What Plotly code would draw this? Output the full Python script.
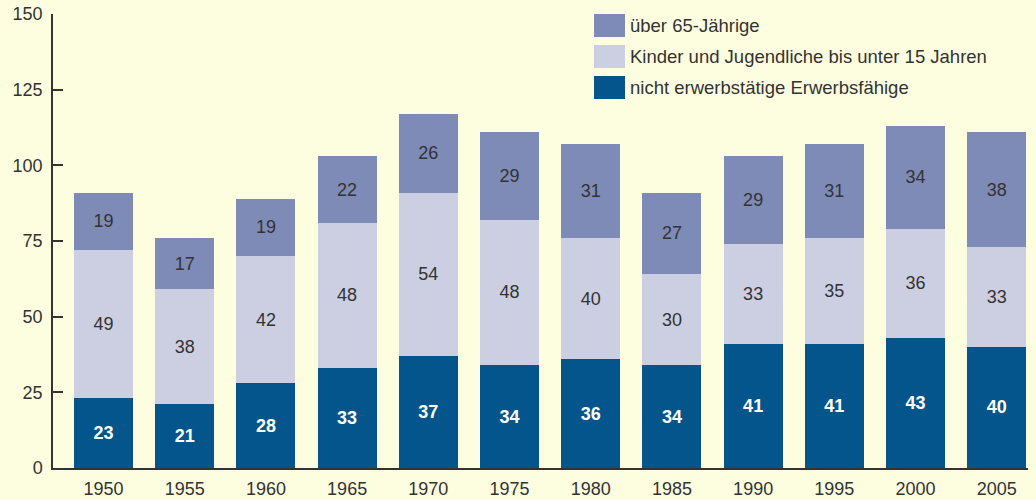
import plotly.graph_objects as go

years = ["1950", "1955", "1960", "1965", "1970", "1975", "1980", "1985", "1990", "1995", "2000", "2005"]
erwerbsfaehige = [23, 21, 28, 33, 37, 34, 36, 34, 41, 41, 43, 40]
kinder = [49, 38, 42, 48, 54, 48, 40, 30, 33, 35, 36, 33]
senioren = [19, 17, 19, 22, 26, 29, 31, 27, 29, 31, 34, 38]
series_names = ["nicht erwerbstätige Erwerbsfähige",
                "Kinder und Jugendliche bis unter 15 Jahren",
                "über 65-Jährige"]
y_ticks = [0, 25, 50, 75, 100, 125, 150]

BG = "#FDFDDF"
C_DARK = "#03558B"
C_LIGHT = "#CCCFE2"
C_MID = "#7D8BB6"
TXT = "#333333"
FONT = "Liberation Sans, Arial, sans-serif"

x = list(range(len(years)))
fig = go.Figure()
data = [(erwerbsfaehige, C_DARK, "white", "bold"),
        (kinder, C_LIGHT, TXT, "normal"),
        (senioren, C_MID, TXT, "normal")]
for name, (vals, col, tcol, tw) in zip(series_names, data):
    fig.add_trace(go.Bar(
        x=x, y=vals, name=name, marker=dict(color=col, line=dict(width=0)),
        width=0.727, text=[str(v) for v in vals], textposition="inside",
        insidetextanchor="middle", textangle=0,
        textfont=dict(color=tcol, size=18, family=FONT, weight=tw),
        showlegend=False, hoverinfo="skip"))

W, H = 1036, 500
L, R, T, B = 53, 8, 14, 32
pw, ph = W - L - R, H - T - B
def px(xp): return (xp - L) / pw
def py(yp): return 1 - (yp - T) / ph

# manual legend (top to bottom: über 65, Kinder, Erwerbsfähige)
legend_order = [(series_names[2], C_MID), (series_names[1], C_LIGHT), (series_names[0], C_DARK)]
row_centers = [25.5, 56.5, 87.5]
for (name, col), yc in zip(legend_order, row_centers):
    fig.add_shape(type="rect", xref="paper", yref="paper",
                  x0=px(594), x1=px(625), y0=py(yc + 11.5), y1=py(yc - 11.5),
                  fillcolor=col, line=dict(width=0))
    fig.add_annotation(xref="paper", yref="paper", x=px(628), y=py(yc),
                       text=name, showarrow=False, xanchor="left", yanchor="middle",
                       font=dict(size=18.5, color=TXT, family=FONT))

fig.update_layout(
    barmode="stack", width=W, height=H,
    paper_bgcolor=BG, plot_bgcolor=BG,
    margin=dict(l=L, r=R, t=T, b=B),
    font=dict(family=FONT, color=TXT, size=18),
    xaxis=dict(range=[-0.622, 11.385], tickvals=x, ticktext=years, automargin=False,
               showgrid=False, zeroline=False, showline=True, linecolor=TXT, linewidth=1.5,
               ticks="outside", ticklen=4, tickcolor=BG, tickfont=dict(size=18, color=TXT),
               ticklabeloverflow="allow"),
    yaxis=dict(range=[0, 150], tickvals=y_ticks, showgrid=False, zeroline=False, automargin=False,
               showline=True, linecolor=TXT, linewidth=1.5,
               ticks="inside", ticklen=10, tickwidth=1.5, tickcolor=TXT,
               ticklabelstandoff=5, tickfont=dict(size=18, color=TXT),
               ticklabeloverflow="allow"),
)
fig.write_html("out.html", config={"displayModeBar": False},
               post_script="document.body.style.margin='0';document.body.style.overflow='hidden';")
